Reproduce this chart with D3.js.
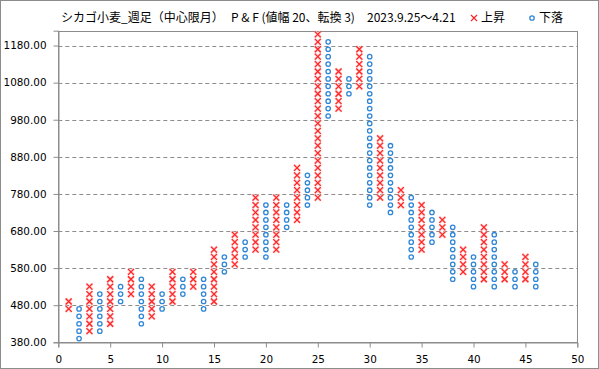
<!DOCTYPE html>
<html>
<head>
<meta charset="utf-8">
<script src="https://cdn.jsdelivr.net/npm/d3@7"></script>
<style>
  body { margin: 0; background: #fff; }
  svg { display: block; font-family: "DejaVu Sans", sans-serif; }
</style>
</head>
<body>
<svg width="599" height="369"></svg>
<script>
'use strict';

// P&F columns: 1 = X (上昇), 0 = O (下落), box range low..high
const colKind = [1,0,1,0,1,0,1,0,1,0, 1,0,1,0,1,0,1,0,1,0, 1,0,1,0,1,0,1,0,1,0, 1,0,1,0,1,0,1,0,1,0, 1,0,1,0,1,0];
const colLow  = [470,390,410,410,430,490,510,430,450,470, 490,510,530,470,490,570,590,610,630,610,
                 630,690,710,750,770,990,1010,1050,1070,750, 770,730,750,610,630,650,670,550,570,530,
                 550,530,550,530,550,530];
const colHigh = [490,470,530,510,550,530,570,550,530,510, 570,550,570,550,630,610,670,650,770,750,
                 770,750,850,830,1210,1190,1110,1090,1170,1150, 930,910,790,770,750,730,710,690,630,610,
                 690,670,590,570,610,590];
const boxSize = 20;
const yTicks = [380, 480, 580, 680, 780, 880, 980, 1080, 1180];
const xTicks = [0, 5, 10, 15, 20, 25, 30, 35, 40, 45, 50];

const svg = d3.select('svg');
const width = +svg.attr('width');
const height = +svg.attr('height');

const plot = {left: 58.3, right: 577.3, top: 30.7, bottom: 342.3};
const grey = '#8c8c8c';

const x = d3.scaleLinear().domain([0, 50]).range([plot.left, plot.right]);
const y = d3.scaleLinear().domain([380, 1220]).range([plot.bottom, plot.top]);

// boxes
const boxes = [];
colKind.forEach((k, i) => {
  for (let v = colLow[i]; v <= colHigh[i]; v += boxSize) {
    boxes.push({col: i + 1, value: v, up: k === 1});
  }
});

svg.append('rect')
    .attr('x', 0.5).attr('y', 0.5)
    .attr('width', width - 1).attr('height', height - 1)
    .attr('fill', 'none').attr('stroke', grey);

// gridlines
svg.append('g')
  .selectAll('line')
  .data(yTicks.slice(1))
  .enter()
  .append('line')
    .attr('x1', plot.left).attr('x2', plot.right)
    .attr('y1', d => Math.round(y(d)) + 0.5)
    .attr('y2', d => Math.round(y(d)) + 0.5)
    .attr('stroke', grey)
    .attr('stroke-dasharray', '4,3');

svg.append('rect')
    .attr('x', Math.round(plot.left) + 0.5).attr('y', Math.round(plot.top) + 0.5)
    .attr('width', Math.round(plot.right) - Math.round(plot.left))
    .attr('height', Math.round(plot.bottom) - Math.round(plot.top))
    .attr('fill', 'none').attr('stroke', grey);

const yAxis = svg.append('g')
    .attr('transform', `translate(${Math.round(plot.left) + 0.5},0)`)
    .call(d3.axisLeft(y).tickValues(yTicks).tickSize(5).tickPadding(7)
      .tickFormat(d3.format('.2f')));

const xAxis = svg.append('g')
    .attr('transform', `translate(0,${Math.round(plot.bottom) + 0.5})`)
    .call(d3.axisBottom(x).tickValues(xTicks).tickSize(5).tickPadding(8));

[yAxis, xAxis].forEach(a => {
  a.select('.domain').attr('stroke', grey);
  a.selectAll('.tick line').attr('stroke', grey);
  a.selectAll('.tick text')
      .attr('fill', '#000')
      .attr('font-size', 10.4)
      .attr('font-family', '"DejaVu Sans", sans-serif');
});

// X marks
const xs = boxes.filter(d => d.up);
const s = 3;
const xPath = d => {
  const cx = x(d.col), cy = y(d.value);
  return `M${cx - s},${cy - s}L${cx + s},${cy + s}M${cx - s},${cy + s}L${cx + s},${cy - s}`;
};
svg.append('g').selectAll('path')
  .data(xs).enter().append('path')
    .attr('d', xPath)
    .attr('stroke', '#ffc4c4').attr('stroke-width', 2.6).attr('fill', 'none');
svg.append('g').selectAll('path')
  .data(xs).enter().append('path')
    .attr('d', xPath)
    .attr('stroke', '#ff2020').attr('stroke-width', 1.1).attr('fill', 'none');

// O marks
svg.append('g').selectAll('circle')
  .data(boxes.filter(d => !d.up)).enter().append('circle')
    .attr('cx', d => x(d.col))
    .attr('cy', d => y(d.value))
    .attr('r', 2.2)
    .attr('fill', '#fff')
    .attr('stroke', '#2f86d6')
    .attr('stroke-width', 1.3);

// title + legend
const jp = '"Noto Sans CJK JP", "Noto Sans", sans-serif';
const title = svg.append('g').attr('font-family', jp).attr('font-size', 12).attr('fill', '#000');
title.append('text').attr('x', 61).attr('y', 22).text('シカゴ小麦_週足（中心限月）');
title.append('text').attr('x', 231).attr('y', 22).text('P & F (値幅 20、転換 3)');
title.append('text').attr('x', 367).attr('y', 22).text('2023.9.25～4.21');

const lgX = 474, lgY = 18;
svg.append('path')
    .attr('d', `M${lgX - s},${lgY - s}L${lgX + s},${lgY + s}M${lgX - s},${lgY + s}L${lgX + s},${lgY - s}`)
    .attr('stroke', '#ff2020').attr('stroke-width', 1.1);
title.append('text').attr('x', 481).attr('y', 22).text('上昇');
svg.append('circle')
    .attr('cx', 532).attr('cy', lgY).attr('r', 2.2)
    .attr('fill', '#fff').attr('stroke', '#2f86d6').attr('stroke-width', 1.3);
title.append('text').attr('x', 539).attr('y', 22).text('下落');
</script>
</body>
</html>
